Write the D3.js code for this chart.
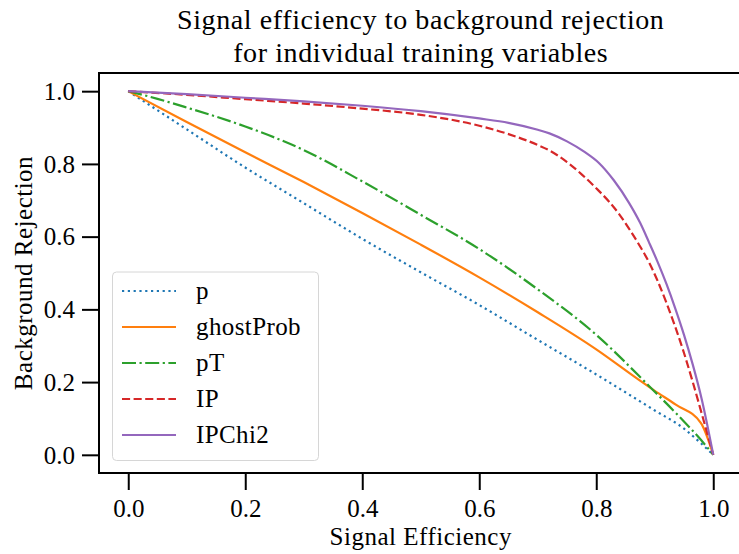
<!DOCTYPE html>
<html>
<head>
    <script src="https://d3js.org/d3.v7.min.js"></script>
    <style>
        body { margin: 0; background: #fff; }
        svg { display: block; font-family: "Liberation Serif", "Times New Roman", serif; }
        .title { font-size: 28px; letter-spacing: 0.6px; }
        .tick text { font-size: 25px; font-family: "Liberation Serif", serif; }
        .axis-label { font-size: 25px; letter-spacing: 0.5px; }
        .legend text { font-size: 25px; letter-spacing: 0.4px; }
        .domain { display: none; }
    </style>
</head>
<body>
    <svg width="739" height="554"></svg>
    <script>
        // ROC curves per training variable
        var pX        = [0, 0.1, 0.2, 0.3, 0.4, 0.5, 0.6, 0.7, 0.8, 0.9, 0.95, 0.976, 1.0];
        var pY        = [1, 0.895, 0.79, 0.692, 0.594, 0.502, 0.412, 0.316, 0.221, 0.122, 0.072, 0.036, 0];

        var ghostX    = [0, 0.1, 0.2, 0.3, 0.4, 0.5, 0.6, 0.7, 0.8, 0.873, 0.9, 0.936, 0.979, 1.0];
        var ghostY    = [1, 0.915, 0.832, 0.75, 0.665, 0.578, 0.488, 0.392, 0.29, 0.206, 0.176, 0.138, 0.087, 0];

        var pTX       = [0, 0.05, 0.1, 0.2, 0.3, 0.4, 0.5, 0.6, 0.7, 0.8, 0.891, 0.936, 0.99, 1.0];
        var pTY       = [1, 0.979, 0.955, 0.903, 0.838, 0.752, 0.66, 0.566, 0.455, 0.33, 0.188, 0.115, 0.02, 0];

        var ipX       = [0, 0.1, 0.2, 0.3, 0.4, 0.5, 0.6, 0.65, 0.7, 0.72, 0.75, 0.776, 0.8, 0.822, 0.84, 0.856, 0.875, 0.89, 0.905, 0.92, 0.935, 0.95, 0.965, 0.98, 1.0];
        var ipY       = [1, 0.99, 0.978, 0.966, 0.952, 0.935, 0.905, 0.882, 0.852, 0.837, 0.805, 0.77, 0.733, 0.696, 0.66, 0.622, 0.573, 0.53, 0.478, 0.418, 0.352, 0.28, 0.2, 0.115, 0];

        var ipChi2X   = [0, 0.1, 0.2, 0.3, 0.4, 0.5, 0.6, 0.65, 0.7, 0.72, 0.75, 0.78, 0.805, 0.83, 0.856, 0.875, 0.89, 0.905, 0.92, 0.935, 0.95, 0.965, 0.98, 1.0];
        var ipChi2Y   = [1, 0.992, 0.982, 0.972, 0.96, 0.945, 0.925, 0.913, 0.894, 0.884, 0.862, 0.833, 0.802, 0.755, 0.693, 0.638, 0.585, 0.53, 0.47, 0.403, 0.33, 0.248, 0.155, 0];

        var names     = ["p", "ghostProb", "pT", "IP", "IPChi2"];
        var colors    = ["#1f77b4", "#ff7f0e", "#2ca02c", "#d62728", "#9467bd"];
        var dashes    = ["2.2,3.6", null, "14,3.5,2.2,3.5", "8.1,3.5", null];
        var xsList    = [pX, ghostX, pTX, ipX, ipChi2X];
        var ysList    = [pY, ghostY, pTY, ipY, ipChi2Y];

        var tickVals  = [0, 0.2, 0.4, 0.6, 0.8, 1.0];

        var svg = d3.select("svg"),
            plotLeft = 99, plotTop = 73, plotW = 643.5, plotH = 400;

        var x = d3.scaleLinear().domain([-0.05, 1.05]).range([plotLeft, plotLeft + plotW]);
        var y = d3.scaleLinear().domain([-0.05, 1.05]).range([plotTop + plotH, plotTop]);

        var series = names.map(function(n, i) {
            return {
                name: n, color: colors[i], dash: dashes[i],
                values: xsList[i].map(function(v, j) { return [v, ysList[i][j]]; })
            };
        });

        svg.append("defs").append("clipPath").attr("id", "clip")
            .append("rect").attr("x", plotLeft).attr("y", plotTop).attr("width", plotW).attr("height", plotH);

        var line = d3.line()
            .x(function(d) { return x(d[0]); })
            .y(function(d) { return y(d[1]); })
            .curve(d3.curveMonotoneX);

        svg.append("g").attr("clip-path", "url(#clip)")
            .selectAll("path")
            .data(series)
            .enter().append("path")
            .attr("d", function(d) { return line(d.values); })
            .attr("fill", "none")
            .attr("stroke", function(d) { return d.color; })
            .attr("stroke-width", 2.2)
            .attr("stroke-dasharray", function(d) { return d.dash; });

        // axes
        var fmt = d3.format(".1f");
        var xAxis = svg.append("g")
            .attr("transform", "translate(0," + (plotTop + plotH) + ")")
            .call(d3.axisBottom(x).tickValues(tickVals).tickFormat(fmt).tickSizeOuter(0).tickSize(17).tickPadding(8));
        xAxis.attr("font-family", null).attr("font-size", null);
        xAxis.selectAll(".tick line").attr("stroke", "#000").attr("stroke-width", 2);
        xAxis.selectAll(".tick text").attr("fill", "#000").attr("dy", "0.75em");

        var yAxis = svg.append("g")
            .attr("transform", "translate(" + plotLeft + ",0)")
            .call(d3.axisLeft(y).tickValues(tickVals).tickFormat(fmt).tickSizeOuter(0).tickSize(17).tickPadding(7));
        yAxis.attr("font-family", null).attr("font-size", null);
        yAxis.selectAll(".tick line").attr("stroke", "#000").attr("stroke-width", 2);
        yAxis.selectAll(".tick text").attr("fill", "#000").attr("dy", "0.33em");

        // spines
        svg.append("rect")
            .attr("x", plotLeft).attr("y", plotTop).attr("width", plotW).attr("height", plotH)
            .attr("fill", "none").attr("stroke", "#000").attr("stroke-width", 2);

        // title + labels
        var cx = plotLeft + plotW / 2;
        svg.append("text").attr("class", "title").attr("x", cx).attr("y", 29)
            .attr("text-anchor", "middle").text("Signal efficiency to background rejection");
        svg.append("text").attr("class", "title").attr("x", cx).attr("y", 62)
            .attr("text-anchor", "middle").text("for individual training variables");

        svg.append("text").attr("class", "axis-label").attr("x", cx).attr("y", 545)
            .attr("text-anchor", "middle").text("Signal Efficiency");
        svg.append("text").attr("class", "axis-label")
            .attr("transform", "translate(32," + (plotTop + plotH / 2) + ") rotate(-90)")
            .attr("text-anchor", "middle").text("Background Rejection");

        // legend
        var legend = svg.append("g").attr("class", "legend");
        legend.append("rect")
            .attr("x", 112.5).attr("y", 272).attr("width", 206).attr("height", 188.5)
            .attr("rx", 4).attr("fill", "#fff").attr("fill-opacity", 0.8)
            .attr("stroke", "#d6d6d6").attr("stroke-width", 1);

        var rows = legend.selectAll(".row")
            .data(series)
            .enter().append("g")
            .attr("class", "row")
            .attr("transform", function(d, i) { return "translate(0," + (291 + i * 36) + ")"; });

        rows.append("line")
            .attr("x1", 122).attr("x2", 176)
            .attr("stroke", function(d) { return d.color; })
            .attr("stroke-width", 2.2)
            .attr("stroke-dasharray", function(d) { return d.dash; });

        rows.append("text")
            .attr("x", 196).attr("y", 8)
            .text(function(d) { return d.name; });
    </script>
</body>
</html>
